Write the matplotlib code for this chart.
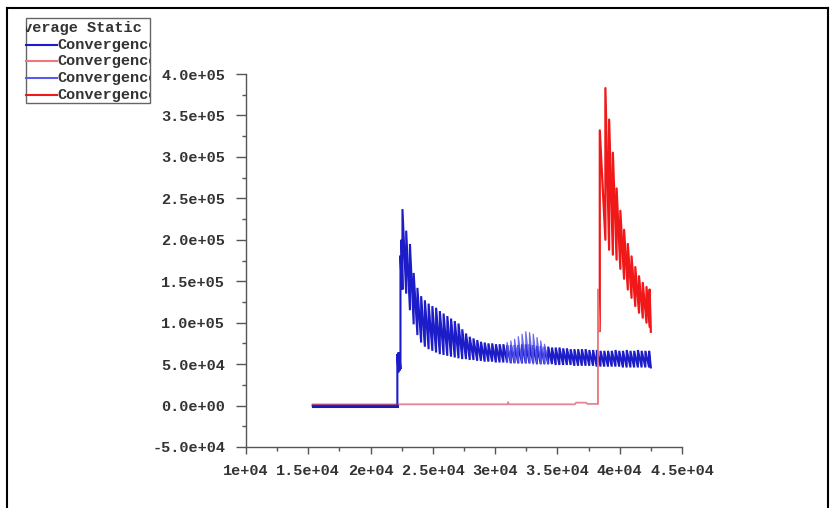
import numpy as np
import matplotlib
matplotlib.use('Agg')
import matplotlib.pyplot as plt
from matplotlib.lines import Line2D
from matplotlib.patches import Rectangle
from matplotlib.transforms import Bbox, TransformedBbox
from matplotlib.ticker import MultipleLocator, FuncFormatter

# ---------------- data ----------------
legend_title = "Average Static"
series_labels = ["Convergence", "Convergence", "Convergence", "Convergence"]
series_colors = ["#1c1cc8", "#f07878", "#5a5af0", "#f01818"]

# Series 1 (blue): flat start, small jump, then sawtooth cycles
blue_pre_x = [15350, 22150, 22150, 22230, 22230, 22320, 22320, 22400, 22400, 22480, 22480, 22560]
blue_pre_y = [0, 0, 62000, 40000, 64000, 42000, 60000, 44000, 181000, 150000, 200000, 140000]
blue_cyc_x = [22560, 22860, 23160, 23460, 23760, 24060, 24360, 24660, 24960, 25260,
              25560, 25860, 26160, 26460, 26760, 27060, 27360, 27660, 27960, 28260,
              28560, 28860, 29160, 29460, 29760, 30060, 30360, 30660, 30960, 31260,
              31560, 31860, 32160, 32460, 32760, 33060, 33360, 33660, 33960, 34260,
              34560, 34860, 35160, 35460, 35760, 36060, 36360, 36660, 36960, 37260,
              37560, 37860, 38160, 38460, 38760, 39060, 39360, 39660, 39960, 40260,
              40560, 40860, 41160, 41460, 41760, 42060, 42360]
blue_peak = [237000, 211000, 195000, 160000, 142000, 132000, 127000, 123000, 120000, 118000,
             114000, 111000, 108000, 105000, 102000, 99000, 92000, 87000, 83000, 81000,
             79000, 77000, 76000, 75000, 75000, 74000, 74000, 74000, 73000, 73000,
             73000, 73000, 74000, 74000, 74000, 73000, 72000, 72000, 71000, 71000,
             70000, 70000, 70000, 69000, 69000, 68000, 68000, 68000, 68000, 68000,
             67000, 67000, 67000, 66000, 66000, 66000, 66000, 67000, 66000, 66000,
             67000, 66000, 66000, 67000, 66000, 66000, 66000]
blue_trough = [135000, 115000, 98000, 85000, 76000, 71000, 68000, 66000, 64000, 62000,
               61000, 60000, 59000, 58000, 57000, 56000, 56000, 55000, 55000, 54000,
               54000, 53000, 53000, 53000, 52000, 52000, 52000, 52000, 51000, 51000,
               51000, 51000, 51000, 51000, 51000, 50000, 50000, 50000, 50000, 50000,
               49000, 49000, 49000, 49000, 49000, 48000, 48000, 48000, 48000, 48000,
               48000, 47000, 47000, 47000, 47000, 47000, 47000, 47000, 46000, 46000,
               46000, 46000, 46000, 46000, 46000, 46000, 46000]
blue_end_x = 42500

# Series 3 (light blue): the bump around 3.25e4
bump_cyc_x = [30960, 31260, 31560, 31860, 32160, 32460, 32760, 33060, 33360, 33660, 33960]
bump_peak = [76000, 78000, 80000, 83000, 86000, 89000, 88000, 86000, 82000, 78000, 74000]
bump_trough = [52000, 52000, 51000, 51000, 51000, 51000, 50000, 50000, 50000, 50000, 50000]
bump_end_x = 34260

# Series 2 (light red): near-zero baseline, then the first jump
red_base_x = [15350, 31000, 31050, 31100, 36400, 36500, 37300, 37400, 38250, 38250, 38400]
red_base_y = [1500, 1500, 4000, 1500, 1500, 3500, 3500, 2000, 2000, 140000, 90000]

# Series 4 (red): sawtooth after the jump
red_cyc_x = [38400, 38850, 39150, 39450, 39750, 40050, 40350, 40650, 40950, 41250,
             41550, 41850, 42150, 42400]
red_peak = [332000, 383000, 345000, 305000, 262000, 235000, 212000, 195000, 180000, 167000,
            156000, 148000, 143000, 140000]
red_trough = [200000, 188000, 182000, 176000, 165000, 153000, 140000, 130000, 120000, 112000,
              106000, 100000, 95000, 89000]
red_end_x = 42500

x_min, x_max = 10000, 45000
y_min, y_max = -50000, 400000


def sawtooth(pre_x, pre_y, cx, peaks, troughs, end_x):
    xs, ys = list(pre_x), list(pre_y)
    for i in range(len(cx)):
        nxt = cx[i + 1] if i + 1 < len(cx) else end_x
        xs += [cx[i], nxt]
        ys += [peaks[i], troughs[i]]
    return xs, ys


# ---------------- figure ----------------
W, H = 836, 508
fig = plt.figure(figsize=(W / 100, H / 100), dpi=100)
fig.patch.set_facecolor("white")


def fx(px):
    return px / W


def fy(py):
    return 1 - py / H


FONT = dict(fontfamily="Liberation Mono", fontsize=11, fontweight="bold", color="#333333")

ax = fig.add_axes([fx(246), fy(447), fx(682) - fx(246), fy(74) - fy(447)])

b1x, b1y = sawtooth(blue_pre_x, blue_pre_y, blue_cyc_x, blue_peak, blue_trough, blue_end_x)
b3x, b3y = sawtooth([bump_cyc_x[0]], [bump_trough[0]], bump_cyc_x, bump_peak, bump_trough, bump_end_x)
r4x, r4y = sawtooth([red_cyc_x[0]], [red_base_y[-1]], red_cyc_x, red_peak, red_trough, red_end_x)

ax.plot(b1x[:2], b1y[:2], color="#202090", lw=2.2)
ax.plot(b1x, b1y, color=series_colors[0], lw=1.5, solid_joinstyle="miter")
ax.plot(red_base_x, red_base_y, color="#d02040", lw=1.3, alpha=0.55)
ax.plot(b3x, b3y, color=series_colors[2], lw=0.9, alpha=0.9)
ax.plot(r4x, r4y, color=series_colors[3], lw=1.6)
ax.plot(red_base_x[-3:], red_base_y[-3:], color=series_colors[1], lw=1.0)

ax.set_xlim(x_min, x_max)
ax.set_ylim(y_min, y_max)

for s in ["top", "right"]:
    ax.spines[s].set_visible(False)
for s in ["left", "bottom"]:
    ax.spines[s].set_color("#555555")
    ax.spines[s].set_linewidth(1.0)

ax.xaxis.set_major_locator(MultipleLocator(5000))
ax.xaxis.set_minor_locator(MultipleLocator(2500))
ax.yaxis.set_major_locator(MultipleLocator(50000))
ax.yaxis.set_minor_locator(MultipleLocator(25000))
ax.xaxis.set_major_formatter(FuncFormatter(lambda v, p: "{:.2g}".format(v)))
ax.yaxis.set_major_formatter(FuncFormatter(lambda v, p: "{:.1e}".format(v)))

ax.tick_params(axis="y", which="major", length=7, width=1, color="#555555", pad=8)
ax.tick_params(axis="y", which="minor", length=3, width=1, color="#555555")
ax.tick_params(axis="x", which="major", length=5, width=1, color="#555555", pad=7)
ax.tick_params(axis="x", which="minor", length=3, width=1, color="#555555")
for lab in ax.get_xticklabels() + ax.get_yticklabels():
    lab.set_fontfamily(FONT["fontfamily"])
    lab.set_fontsize(FONT["fontsize"])
    lab.set_fontweight(FONT["fontweight"])
    lab.set_color(FONT["color"])

# outer frame: left, top and right edges
for xs, ys in [([7, 7], [508, 8]), ([7, 828], [8, 8]), ([828, 828], [8, 508])]:
    fig.lines.append(Line2D([fx(v) for v in xs], [fy(v) for v in ys], transform=fig.transFigure,
                            color="black", lw=1.5))

# legend box (text clipped at its edges, as in the original)
lx0, lx1, ly0, ly1 = 26, 150, 18, 103
fig.patches.append(Rectangle((fx(lx0), fy(ly1)), fx(lx1) - fx(lx0), fy(ly0) - fy(ly1),
                             transform=fig.transFigure, fill=False, ec="#666666", lw=1.0))
clip = TransformedBbox(Bbox.from_extents(fx(lx0), fy(ly1), fx(lx1), fy(ly0)), fig.transFigure)

t = fig.text(fx(14), fy(28), legend_title, va="center", ha="left", **FONT)
t.set_clip_box(clip)
t.set_clip_on(True)

row_y = [45, 61, 78, 95]
for yy, lab, col in zip(row_y, series_labels, series_colors):
    fig.lines.append(Line2D([fx(lx0), fx(57)], [fy(yy), fy(yy)], transform=fig.transFigure,
                            color=col, lw=1.5))
    tt = fig.text(fx(57), fy(yy), lab, va="center", ha="left", **FONT)
    tt.set_clip_box(clip)
    tt.set_clip_on(True)

fig.savefig("out.png", dpi=100, facecolor="white")
